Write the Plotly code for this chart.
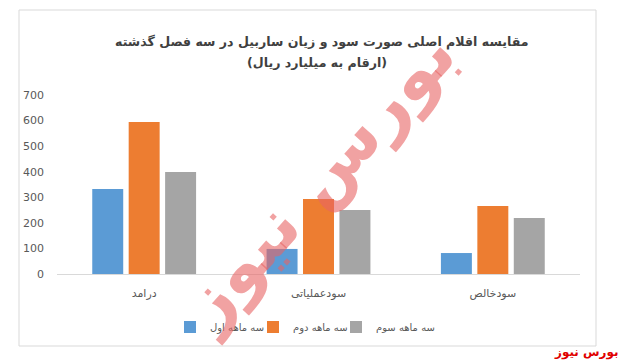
import plotly.graph_objects as go

categories = ["درامد", "سودعملیاتی", "سودخالص"]
series_names = ["سه ماهه اول", "سه ماهه دوم", "سه ماهه سوم"]
q1 = [332, 98, 82]
q2 = [594, 293, 266]
q3 = [399, 250, 219]
colors = ["#5b9bd5", "#ed7d31", "#a5a5a5"]
y_ticks = [0, 100, 200, 300, 400, 500, 600, 700]

W, H = 624, 363
L, R, T, B = 57, 44, 95, 89
pw = W - L - R
ph = H - T - B

def px_x(px):
    return (px - L) / pw

def px_y(py):
    return (H - B - py) / ph

legend_ids = ["legend", "legend2", "legend3"]
legend_px = [170, 253, 336]

fig = go.Figure()
for name, vals, c, lid in zip(series_names, [q1, q2, q3], colors, legend_ids):
    fig.add_trace(go.Bar(x=categories, y=vals, name=name, legend=lid,
                         marker=dict(color=c, line=dict(width=0))))

font_main = "DejaVu Sans, Noto Sans, sans-serif"
legend_common = dict(orientation="h", xanchor="left", y=px_y(327), yanchor="middle",
                     font=dict(size=10, color="#595959"), itemwidth=30,
                     bgcolor="rgba(0,0,0,0)")
fig.update_layout(
    width=W, height=H,
    margin=dict(l=L, r=R, t=T, b=B, autoexpand=False),
    paper_bgcolor="white", plot_bgcolor="white",
    barmode="group", bargap=0.373, bargroupgap=0.15,
    font=dict(family=font_main, size=11, color="#595959"),
    showlegend=True,
    legend=dict(x=px_x(legend_px[0]), **legend_common),
    legend2=dict(x=px_x(legend_px[1]), **legend_common),
    legend3=dict(x=px_x(legend_px[2]), **legend_common),
    xaxis=dict(showline=True, linecolor="#d9d9d9", linewidth=1, ticks="", showgrid=False,
               automargin=False, ticklabelstandoff=9,
               tickfont=dict(size=11, color="#595959"), fixedrange=True),
    yaxis=dict(range=[0, 700], tickvals=y_ticks, showgrid=False, zeroline=False, showline=False,
               automargin=False, ticks="", ticklabelstandoff=12,
               tickfont=dict(size=11, color="#595959")),
)

# watermark
fig.add_annotation(text="<b>بورس نیوز</b>", xref="paper", yref="paper", x=px_x(316), y=px_y(180),
                   showarrow=False, textangle=-48,
                   font=dict(size=70, color="rgba(232,100,100,0.6)", family=font_main))

# title lines
fig.add_annotation(text="<b>مقایسه اقلام اصلی صورت سود و زیان ساربیل در سه فصل گذشته</b>",
                   xref="paper", yref="paper", x=px_x(322), y=px_y(42), showarrow=False,
                   xanchor="center", yanchor="middle", font=dict(size=12.6, color="#404040"))
fig.add_annotation(text="<b>(ارقام به میلیارد ریال)</b>",
                   xref="paper", yref="paper", x=px_x(317), y=px_y(63), showarrow=False,
                   xanchor="center", yanchor="middle", font=dict(size=12.6, color="#404040"))

# footer brand
fig.add_annotation(text="<b>بورس نیوز</b>", xref="paper", yref="paper", x=px_x(621), y=px_y(352),
                   showarrow=False, xanchor="right", yanchor="middle",
                   font=dict(size=12, color="#e00000"))

# outer border
fig.add_shape(type="rect", xref="paper", yref="paper",
              x0=px_x(19), x1=px_x(596), y0=px_y(346), y1=px_y(10),
              line=dict(color="#d9d9d9", width=1), fillcolor="rgba(0,0,0,0)", layer="below")

fig.write_html("out.html", config={"displayModeBar": False},
               post_script="document.body.style.margin='0px';")
